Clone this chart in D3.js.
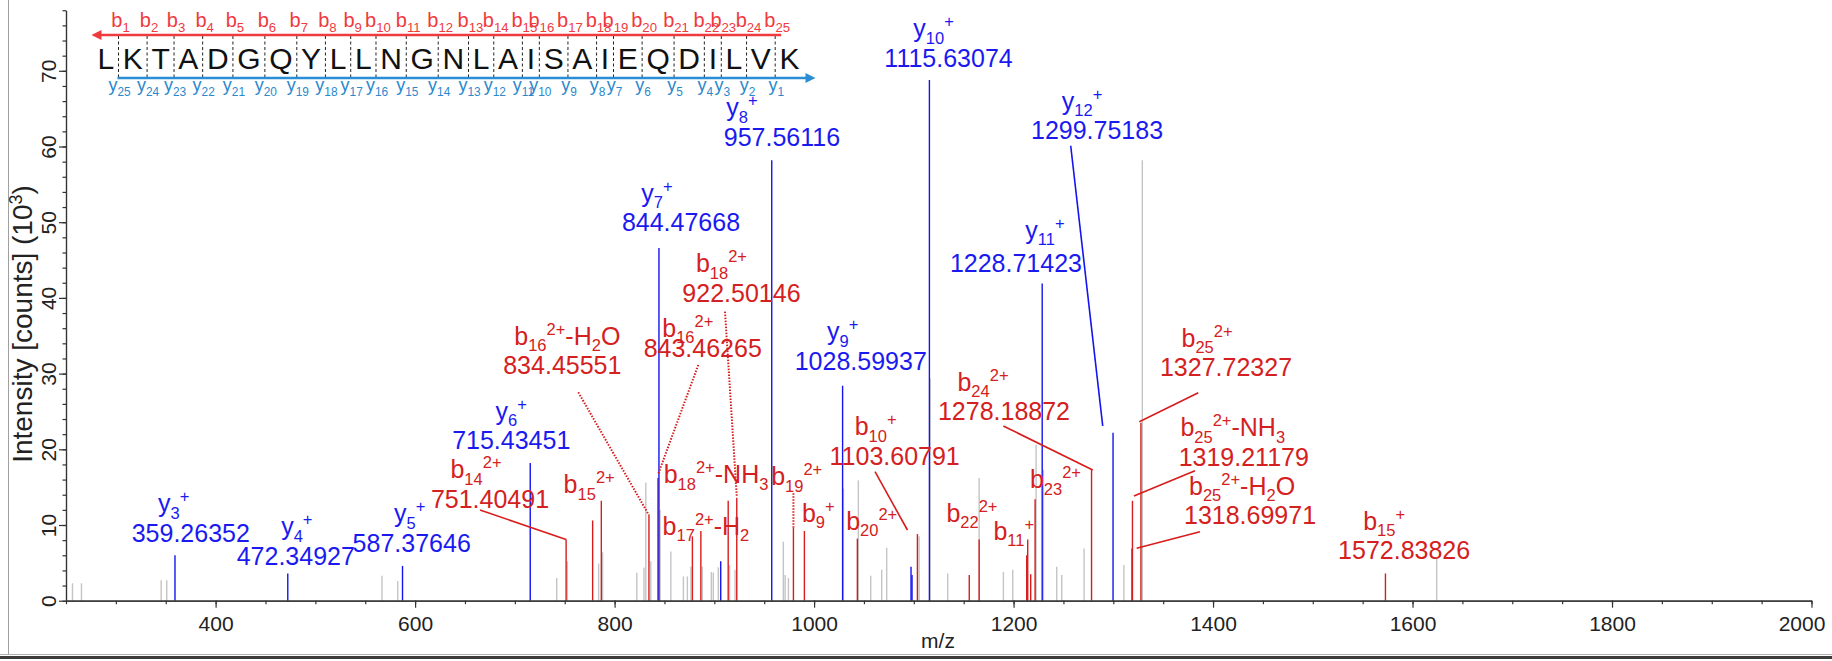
<!DOCTYPE html>
<html>
<head>
<meta charset="utf-8">
<script src="https://cdn.jsdelivr.net/npm/d3@7"></script>
<style>
  body { margin: 0; background: #fff; }
  svg { display: block; font-family: "Liberation Sans", Arial, sans-serif; }
</style>
</head>
<body>
<svg id="chart" width="1832" height="661"></svg>
<script>

// ---- data ----
var sequence = "LKTADGQYLLNGNLAISAIEQDILVK";

var xTicks = [400, 600, 800, 1000, 1200, 1400, 1600, 1800, 2000];
var yTicks = [0, 10, 20, 30, 40, 50, 60, 70];

// unmatched peaks (m/z, intensity x10^3)
var greyMz  = [256.5, 265.5, 345.4, 351.0, 566.8, 582.6, 742.0, 752.6, 784.0, 788.0, 822.3, 829.5,
               831.3, 836.3, 845.6, 856.4, 869.0, 873.0, 876.5, 888.0, 897.0, 899.0, 904.0, 915.3,
               920.8, 969.2, 971.0, 974.3, 1029.4, 1044.4, 1056.8, 1067.8, 1072.8, 1105.3, 1116.3,
               1134.0, 1165.5, 1189.8, 1199.2, 1222.6, 1229.9, 1243.3, 1248.3, 1270.7, 1310.6,
               1329.1, 1624.2];
var greyInt = [2.3, 2.3, 2.7, 2.7, 3.3, 2.6, 3.0, 5.2, 4.9, 6.4, 3.7, 4.4,
               15.6, 5.2, 12.0, 6.5, 3.2, 3.2, 4.5, 4.5, 3.8, 3.7, 4.4, 4.7,
               4.1, 7.8, 3.4, 3.0, 14.8, 15.9, 3.3, 4.1, 7.0, 8.5, 29.4,
               3.6, 16.2, 3.8, 4.1, 20.6, 17.3, 4.5, 3.4, 6.9, 4.7,
               58.2, 5.7];

// y-ion matches
var yIonMz  = [359.26, 472.35, 587.38, 715.43, 844.48, 906.4, 957.56, 1028.60, 1097.2, 1098.2, 1115.63, 1228.71, 1299.75];
var yIonInt = [6.0, 3.6, 4.6, 18.2, 46.6, 5.2, 58.2, 28.4, 4.5, 3.4, 68.8, 41.9, 22.2];

// b-ion matches
var bIonMz  = [751.40, 778.0, 786.7, 834.46, 843.46, 878.0, 886.5, 913.9, 922.50, 979.3, 990.3, 1043.4,
               1103.61, 1155.6, 1165.5, 1213.2, 1214.2, 1217.2, 1221.6, 1278.19, 1318.70, 1319.21, 1327.72, 1572.84];
var bIonInt = [8.1, 10.6, 13.2, 11.3, 16.2, 8.5, 9.2, 13.2, 13.6, 9.6, 9.2, 8.2,
               8.8, 3.4, 8.1, 6.0, 8.1, 3.5, 13.4, 17.3, 6.9, 13.2, 23.5, 3.6];

// ---- annotation layout (label anchors in data units) ----
var labels = [
  {c: "y", ion: "y_{3}^{+}",  val: "359.26352",  at: [375.1, 7.79],  dx: -17},
  {c: "y", ion: "y_{4}^{+}",  val: "472.34927",  at: [480.4, 4.72],  dx: 1},
  {c: "y", ion: "y_{5}^{+}",  val: "587.37646",  at: [596.6, 6.47],  dx: -2},
  {c: "y", ion: "y_{6}^{+}",  val: "715.43451",  at: [696.4, 20.0],  dx: 0},
  {c: "b", ion: "b_{14}^{2+}", val: "751.40491", at: [675.1, 12.29], dx: -14},
  {c: "b", ion: "b_{15}^{2+}", val: null,        at: [774.5, 14.19], dx: 0},
  {c: "b", ion: "b_{16}^{2+}-H_{2}O", val: "834.45551", at: [747.6, 29.9], dx: 5},
  {c: "b", ion: "b_{16}^{2+}", val: "843.46265", at: [888.4, 32.2], dx: -15, dy: -20},
  {c: "y", ion: "y_{7}^{+}",  val: "844.47668",  at: [866.6, 48.8],  dx: -24},
  {c: "b", ion: "b_{18}^{2+}", val: "922.50146", at: [927.2, 39.5], dx: -20},
  {c: "y", ion: "y_{8}^{+}",  val: "957.56116",  at: [967.8, 60.07], dx: -40},
  {c: "b", ion: "b_{18}^{2+}-NH_{3}", val: null, at: [901.7, 15.5],  dx: 0},
  {c: "b", ion: "b_{17}^{2+}-H_{2}", val: null,  at: [891.6, 8.68],  dx: 0},
  {c: "b", ion: "b_{19}^{2+}", val: null,        at: [982.6, 15.28], dx: 0},
  {c: "b", ion: "b_{9}^{+}",  val: null,         at: [1004.2, 10.44], dx: 0},
  {c: "y", ion: "y_{9}^{+}",  val: "1028.59937", at: [1046.8, 30.48], dx: -18},
  {c: "b", ion: "b_{10}^{+}", val: "1103.60791", at: [1080.8, 17.93], dx: -19},
  {c: "b", ion: "b_{20}^{2+}", val: null,        at: [1057.8, 9.34],  dx: 0},
  {c: "y", ion: "y_{10}^{+}", val: "1115.63074", at: [1134.8, 70.54], dx: -15},
  {c: "y", ion: "y_{11}^{+}", val: "1228.71423", at: [1202.4, 43.46], dx: 29, dy: -33},
  {c: "y", ion: "y_{12}^{+}", val: "1299.75183", at: [1283.7, 60.95], dx: -15},
  {c: "b", ion: "b_{24}^{2+}", val: "1278.18872", at: [1190.4, 23.87], dx: -21},
  {c: "b", ion: "b_{22}^{2+}", val: null,        at: [1158.3, 10.44], dx: 0},
  {c: "b", ion: "b_{11}^{+}", val: null,         at: [1200.2, 8.02],  dx: 0},
  {c: "b", ion: "b_{23}^{2+}", val: null,        at: [1242.0, 14.85], dx: 0},
  {c: "b", ion: "b_{25}^{2+}", val: "1327.72327", at: [1413.0, 29.68], dx: -19},
  {c: "b", ion: "b_{25}^{2+}-NH_{3}", val: "1319.21179", at: [1430.8, 17.83], dx: -11},
  {c: "b", ion: "b_{25}^{2+}-H_{2}O", val: "1318.69971", at: [1437.1, 10.13], dx: -8},
  {c: "b", ion: "b_{15}^{+}", val: "1572.83826", at: [1591.6, 5.47], dx: -20}
];

// leader lines from label to peak (data units)
var leaders = [
  {c: "b", from: [665.1, 11.98], to: [751.4, 8.1]},
  {c: "b", from: [763.6, 27.53], to: [834.46, 11.3], dotted: true},
  {c: "b", from: [883.9, 31.14], to: [843.9, 16.8], dotted: true},
  {c: "b", from: [910.7, 38.18], to: [922.5, 13.8], dotted: true},
  {c: "b", from: [979.3, 14.2],  to: [979.3, 9.6], dotted: true},
  {c: "b", from: [1061.1, 17.04], to: [1093.6, 9.34]},
  {c: "b", from: [1189.7, 23.08], to: [1279.4, 17.27]},
  {c: "y", from: [1257.3, 60.1], to: [1289.4, 23.08]},
  {c: "b", from: [1385.2, 27.48], to: [1326.1, 23.65]},
  {c: "b", from: [1381.9, 17.17], to: [1320.7, 13.83]},
  {c: "b", from: [1386.9, 9.11],  to: [1323.4, 6.92]}
];

// ---- chart ----
var colors = {y: "#1414f0", b: "#d81c1c", grey: "#c4c4c4"};

var svg = d3.select("#chart");

var x = d3.scaleLinear()
    .domain([250, 2000])
    .range([66, 1811.5]);

var y = d3.scaleLinear()
    .domain([0, 78])
    .range([600.7, 10.25]);

// frame
svg.append("line").attr("x1", 8.5).attr("x2", 8.5).attr("y1", 0).attr("y2", 655)
    .attr("stroke", "#a0a0a0").attr("stroke-width", 1);
svg.append("line").attr("x1", 0).attr("x2", 1832).attr("y1", 654.5).attr("y2", 654.5)
    .attr("stroke", "#b0b0b0").attr("stroke-width", 1);
svg.append("rect").attr("x", 0).attr("y", 656).attr("width", 1832).attr("height", 3)
    .attr("fill", "#3c3c3c");

// peaks
function drawPeaks(mz, inten, color) {
  svg.append("g").selectAll("line")
    .data(mz.map(function(m, i) { return {mz: m, v: inten[i]}; }))
    .enter().append("line")
    .attr("x1", function(d) { return x(d.mz); })
    .attr("x2", function(d) { return x(d.mz); })
    .attr("y1", y(0))
    .attr("y2", function(d) { return y(d.v); })
    .attr("stroke", color)
    .attr("stroke-width", 1.4);
}
drawPeaks(greyMz, greyInt, colors.grey);
drawPeaks(bIonMz, bIonInt, colors.b);
drawPeaks(yIonMz, yIonInt, colors.y);

// leaders
svg.append("g").selectAll("line")
  .data(leaders)
  .enter().append("line")
  .attr("x1", function(d) { return x(d.from[0]); })
  .attr("y1", function(d) { return y(d.from[1]); })
  .attr("x2", function(d) { return x(d.to[0]); })
  .attr("y2", function(d) { return y(d.to[1]); })
  .attr("stroke", function(d) { return colors[d.c]; })
  .attr("stroke-width", function(d) { return d.dotted ? 2 : 1.6; })
  .attr("stroke-dasharray", function(d) { return d.dotted ? "1.5,1.5" : null; });

// text with _{sub} and ^{sup}
function richText(sel, str, size) {
  var re = /([_^])\{([^}]*)\}|([^_^]+)/g, m, shift = 0;
  while ((m = re.exec(str))) {
    if (m[3]) {
      sel.append("tspan").attr("dy", -shift).attr("font-size", size).text(m[3]);
      shift = 0;
    } else {
      var s = m[1] == "_" ? size * 0.26 : -size * 0.4;
      sel.append("tspan").attr("dy", s - shift).attr("font-size", size * 0.66).text(m[2]);
      shift = s;
    }
  }
}

var labelG = svg.append("g").attr("text-anchor", "middle");
labels.forEach(function(d) {
  var px = x(d.at[0]), py = y(d.at[1]);
  var col = d.c == "y" ? "#1a1af0" : "#d42020";
  if (d.val) {
    labelG.append("text").attr("x", px).attr("y", py)
      .attr("font-size", 25).attr("fill", col).text(d.val);
    var t = labelG.append("text").attr("x", px + d.dx).attr("y", py + (d.dy || -29.5))
      .attr("fill", col);
    richText(t, d.ion, 25);
  } else {
    var t2 = labelG.append("text").attr("x", px + d.dx).attr("y", py).attr("fill", col);
    richText(t2, d.ion, 25);
  }
});

// axes
var xAxis = svg.append("g")
    .attr("transform", "translate(0," + y(0) + ")")
    .call(d3.axisBottom(x).tickValues(xTicks).tickSize(7).tickSizeOuter(0)
      .tickPadding(8).tickFormat(d3.format("d")));
svg.append("g")
    .attr("transform", "translate(0," + y(0) + ")")
    .call(d3.axisBottom(x).ticks(35).tickSize(3.5).tickSizeOuter(0).tickFormat(""));
xAxis.selectAll("text").attr("font-size", 21).attr("fill", "#222");
// keep the last label inside the picture
xAxis.selectAll("text").filter(function(d) { return d == 2000; }).attr("x", -10);

var yAxis = svg.append("g")
    .attr("transform", "translate(" + x(250) + ",0)")
    .call(d3.axisLeft(y).tickValues(yTicks).tickSize(7).tickSizeOuter(0));
svg.append("g")
    .attr("transform", "translate(" + x(250) + ",0)")
    .call(d3.axisLeft(y).ticks(39).tickSize(3.5).tickSizeOuter(0).tickFormat(""));
yAxis.selectAll("text")
    .attr("font-size", 21).attr("fill", "#222")
    .attr("transform", "rotate(-90)")
    .attr("text-anchor", "middle")
    .attr("x", 0).attr("y", -10).attr("dy", 0);

svg.selectAll(".domain, .tick line").attr("stroke", "#333").attr("stroke-width", 1.2);

svg.append("text")
    .attr("x", 938).attr("y", 648)
    .attr("text-anchor", "middle")
    .attr("font-size", 21).attr("fill", "#222")
    .text("m/z");

var yTitle = svg.append("text")
    .attr("transform", "translate(32,324) rotate(-90)")
    .attr("text-anchor", "middle")
    .attr("font-size", 28).attr("fill", "#222");
yTitle.append("tspan").text("Intensity [counts] (10");
yTitle.append("tspan").attr("dy", -10).attr("font-size", 18).text("3");
yTitle.append("tspan").attr("dy", 10).text(")");

// ---- sequence coverage map ----
var seqG = svg.append("g");
var pos = [], cx = 97.5;
sequence.split("").forEach(function(ch) {
  var t = seqG.append("text").attr("x", cx).attr("y", 68.5)
    .attr("font-size", 30).attr("fill", "#111").text(ch);
  var w = t.node().getComputedTextLength();
  pos.push({x: cx, w: w});
  cx += w + 8.6;
});
var seps = pos.slice(0, -1).map(function(p) { return p.x + p.w + 4.3; });
var last = pos[pos.length - 1];

seqG.selectAll(".sep").data(seps).enter().append("line")
  .attr("x1", function(d) { return d; }).attr("x2", function(d) { return d; })
  .attr("y1", 36).attr("y2", 78)
  .attr("stroke", "#222").attr("stroke-width", 1)
  .attr("stroke-dasharray", "3,2.5");

// b arrow (right to left)
var redX0 = pos[0].x - 6, redX1 = seps[seps.length - 1] + 6;
seqG.append("line").attr("x1", redX0 + 6).attr("x2", redX1).attr("y1", 35).attr("y2", 35)
  .attr("stroke", "#ef3a3e").attr("stroke-width", 2.5);
seqG.append("path")
  .attr("d", "M" + redX0 + ",35 l10,-5 l0,10 Z").attr("fill", "#ef3a3e");

// y arrow (left to right)
var blueX0 = seps[0] - 1, blueX1 = last.x + last.w + 16;
seqG.append("line").attr("x1", blueX0).attr("x2", blueX1 - 6).attr("y1", 78).attr("y2", 78)
  .attr("stroke", "#2b8ed4").attr("stroke-width", 2.5);
seqG.append("path")
  .attr("d", "M" + blueX1 + ",78 l-10,-5 l0,10 Z").attr("fill", "#2b8ed4");

seps.forEach(function(s, i) {
  var tb = seqG.append("text").attr("x", s + 2).attr("y", 27)
    .attr("text-anchor", "middle").attr("fill", "#ef3a3e");
  richText(tb, "b_{" + (i + 1) + "}", 20);
  var ty = seqG.append("text").attr("x", s + 1).attr("y", 91)
    .attr("text-anchor", "middle").attr("fill", "#2b88cc");
  richText(ty, "y_{" + (seps.length - i) + "}", 18);
});

</script>
</body>
</html>
